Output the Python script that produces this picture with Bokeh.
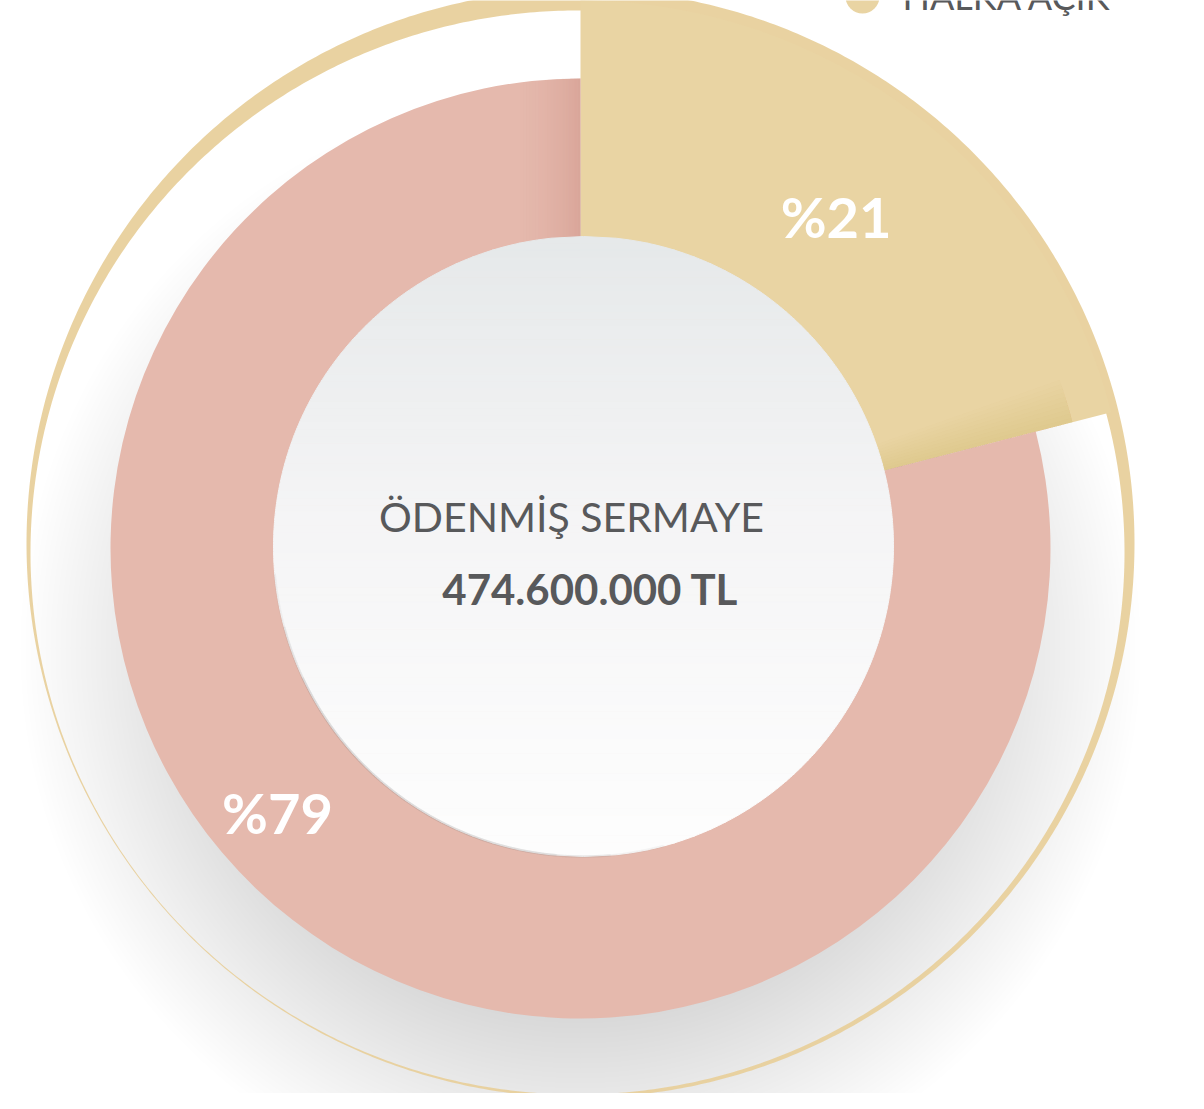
import numpy as np
from bokeh.plotting import figure
from bokeh.models import Range1d, ColumnDataSource
from bokeh.core.properties import value
from bokeh.embed import file_html
from bokeh.resources import INLINE

# ---------------- data ----------------
categories = ["HALKA AÇIK", "DİĞER ORTAKLAR"]
shares = [21, 79]
slice_labels = ["%21", "%79"]
slice_colors = ["#e9d4a3", "#e5b9ad"]
center_title = "ÖDENMİŞ SERMAYE"
center_value = "474.600.000 TL"
legend_items = [categories[0]]
legend_colors = [slice_colors[0]]

# ---------------- layout / style ----------------
W, H = 1188, 1093
FONT = "Lato"
TXT = "#58595b"


def Y(yr):
    # reference pixel row -> data y (y axis up)
    return 1109 - yr


CX, CY = 580, Y(548)
R_OUT_PINK = 470
R_YELLOW = 548
R_HOLE = 310
HX, HY = 583, Y(546)

p = figure(width=W, height=H, x_range=Range1d(0, W), y_range=Range1d(Y(H), Y(0)),
           output_backend="svg", toolbar_location=None, min_border=0)
p.axis.visible = False
p.grid.visible = False
p.outline_line_color = None
p.background_fill_color = "white"
p.border_fill_color = "white"

# soft drop shadow below the donut
sh_r = np.arange(370, 565, 5)
p.circle(x=[580] * len(sh_r), y=[Y(648)] * len(sh_r), radius=sh_r,
         fill_color="#6a7078", fill_alpha=0.0075, line_color=None)

# outer thin golden crescent ring (outer circle minus inner ellipse)
th = np.linspace(0, 2 * np.pi, 721)
ox = 580 + 554 * np.cos(th)
oy = Y(543) + 554 * np.sin(th)
ix = 577 + 547 * np.cos(th[::-1])
iy = Y(552) + 542 * np.sin(th[::-1])
p.multi_polygons(xs=[[[list(ox), list(ix)]]], ys=[[[list(oy), list(iy)]]],
                 fill_color="#e8d09c", fill_alpha=0.95, line_color=None)

# slices from the data
fr = np.array(shares, dtype=float) / sum(shares)
ends = np.pi / 2 - 2 * np.pi * np.cumsum(fr)
starts = np.concatenate([[np.pi / 2], ends[:-1]])
radii = [R_YELLOW, R_OUT_PINK]
for s, e, c, r in zip(starts, ends, slice_colors, radii):
    p.wedge(x=CX, y=CY, radius=r, start_angle=s, end_angle=e, direction="clock",
            fill_color=c, line_color=None)

# darker vertical band on the pink slice next to the top seam
bx, by, ba = [], [], []
x_edges = np.linspace(517, CX, 22)
for xa, xb in zip(x_edges[:-1], x_edges[1:]):
    xx = np.linspace(xa, xb, 4)
    top_y = CY + np.sqrt(R_OUT_PINK ** 2 - (xx - CX) ** 2)
    bx.append(list(xx) + [xb, xa])
    by.append(list(top_y) + [CY, CY])
    u = ((xa + xb) / 2 - 517) / (CX - 517)
    ba.append(0.42 * u ** 1.6)
p.patches(xs=bx, ys=by, fill_color="#c98a7e", fill_alpha=ba, line_color=None)

# darker band on the yellow slice along its lower seam
for k in np.arange(0.5, 5.5, 0.5):
    p.annular_wedge(x=CX, y=CY, inner_radius=R_HOLE, outer_radius=R_YELLOW - 40,
                    start_angle=ends[0], end_angle=ends[0] + np.radians(k),
                    fill_color="#c9a05a", fill_alpha=0.022, line_color=None)

# centre hole with vertical gradient
n = 90
top = HY + R_HOLE
xs, ys, cols = [], [], []
for i in range(n):
    ya = top - 2 * R_HOLE * i / n
    yb = top - 2 * R_HOLE * (i + 1) / n
    yy = np.linspace(ya, yb, 5)
    half = np.sqrt(np.clip(R_HOLE ** 2 - (yy - HY) ** 2, 0, None))
    xs.append(list(HX - half) + list(HX + half[::-1]))
    ys.append(list(yy) + list(yy[::-1]))
    t = (i + 0.5) / n
    if t < 0.45:
        u = t / 0.45
        c0, c1 = np.array([230, 233, 234]), np.array([245, 245, 246])
    else:
        u = (t - 0.45) / 0.55
        c0, c1 = np.array([245, 245, 246]), np.array([254, 254, 254])
    c = (c0 + (c1 - c0) * u).astype(int)
    cols.append("#%02x%02x%02x" % tuple(c))
p.patches(xs=xs, ys=ys, fill_color=cols, line_color=cols, line_width=1)

# faint shadow edge on the lower-left of the hole (fading at its ends)
for a0, a1, a in [(185, 285, 0.08), (195, 275, 0.09), (205, 265, 0.1)]:
    p.arc(x=HX, y=HY, radius=R_HOLE, start_angle=np.radians(a0), end_angle=np.radians(a1),
          line_color="#8a8a8a", line_alpha=a, line_width=2.5)

# slice labels
mid = (starts + ends) / 2 + np.radians([0.0, -10.8])
lab_r = np.array([417, 404])
lab_src = ColumnDataSource(dict(x=CX + lab_r * np.cos(mid), y=CY + lab_r * np.sin(mid) + 3,
                                t=slice_labels))
p.text(x="x", y="y", text="t", source=lab_src, text_color="white",
       text_font=value(FONT), text_font_style="bold", text_font_size="56px",
       text_align="center", text_baseline="middle")

# centre texts
p.text(x=[571], y=[Y(515.5)], text=[center_title], text_color=TXT, text_font=value(FONT),
       text_font_size="41px", text_align="center", text_baseline="middle")
p.text(x=[590], y=[Y(588)], text=[center_value], text_color=TXT, text_font=value(FONT),
       text_font_style="bold", text_font_size="42px", text_align="center", text_baseline="middle")

# legend (clipped at the top like the reference)
p.circle(x=[862], y=[Y(-4)], radius=17, fill_color=legend_colors[0], line_color=None)
p.text(x=[902], y=[Y(-5)], text=legend_items, text_color=TXT, text_font=value(FONT),
       text_font_size="36px", text_align="left", text_baseline="middle")

open("out.html", "w").write(file_html(p, INLINE))
